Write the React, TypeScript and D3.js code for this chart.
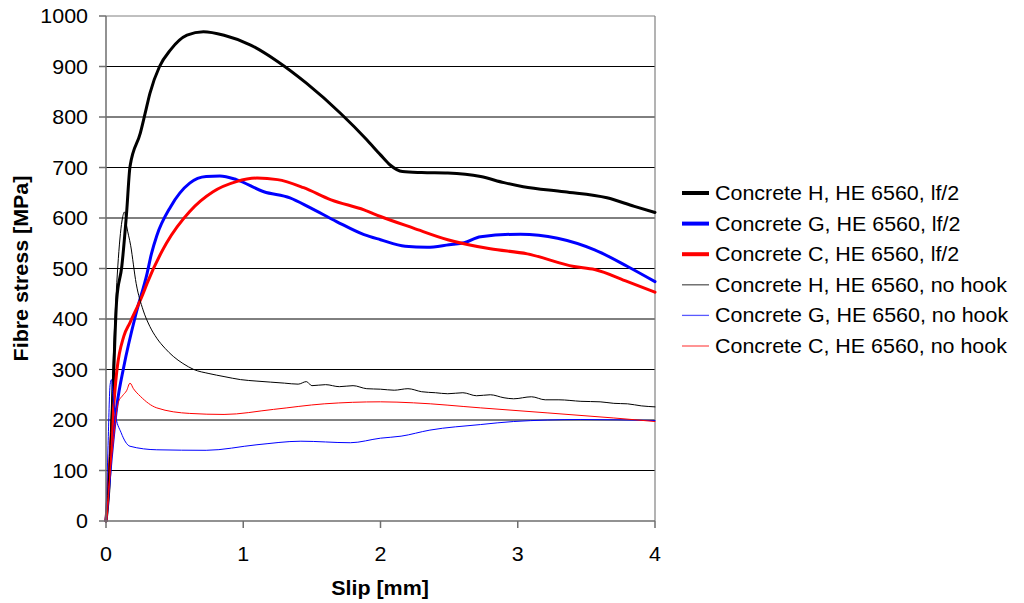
import * as d3 from "d3";
import React from "react";

// slip [mm] / fibre stress [MPa]
const hHookX = [0, 0.02, 0.05, 0.078, 0.115, 0.15, 0.175, 0.25, 0.285, 0.32, 0.39, 0.47, 0.59, 0.71, 0.86, 1.05, 1.25, 1.46, 1.71, 1.9, 2.0, 2.07, 2.16, 2.3, 2.49, 2.73, 2.9, 3.04, 3.34, 3.65, 3.85, 4.0];
const hHookY = [0, 60, 250, 438, 504, 610, 702, 768, 807, 847, 900, 933, 962, 969, 962, 943, 910, 867, 807, 755, 725, 705, 692, 690, 689, 682, 670, 662, 652, 640, 623, 611];

const gHookX = [0, 0.04, 0.08, 0.13, 0.22, 0.3, 0.33, 0.37, 0.47, 0.61, 0.73, 0.83, 0.95, 1.15, 1.34, 1.49, 1.68, 1.88, 2.0, 2.18, 2.34, 2.5, 2.61, 2.73, 3.02, 3.29, 3.56, 3.8, 4.0];
const gHookY = [0, 130, 230, 306, 412, 491, 528, 565, 622, 669, 682, 683, 676, 652, 640, 620, 593, 567, 557, 544, 542, 547, 551, 563, 568, 560, 537, 504, 474];

const cHookX = [0, 0.04, 0.08, 0.13, 0.175, 0.27, 0.3, 0.44, 0.61, 0.78, 0.95, 1.1, 1.25, 1.44, 1.64, 1.88, 2.0, 2.24, 2.49, 2.8, 3.07, 3.41, 3.56, 3.8, 4.0];
const cHookY = [0, 170, 300, 366, 393, 450, 471, 550, 613, 652, 672, 679, 676, 660, 636, 616, 603, 580, 557, 539, 529, 504, 498, 474, 453];

const hNoHookX = [0, 0.03, 0.06, 0.09, 0.12, 0.135, 0.15, 0.18, 0.22, 0.27, 0.32, 0.37, 0.43, 0.49, 0.56, 0.64, 0.75, 0.86, 0.98, 1.1, 1.2, 1.3, 1.4, 1.46, 1.5, 1.6, 1.7, 1.8, 1.9, 2.0, 2.1, 2.2, 2.3, 2.4, 2.49, 2.6, 2.7, 2.8, 2.9, 2.97, 3.1, 3.2, 3.3, 3.46, 3.6, 3.7, 3.8, 3.9, 4.0];
const hNoHookY = [0, 150, 370, 520, 600, 612, 585, 545, 470, 418, 385, 362, 342, 326, 312, 300, 292, 286, 280, 277, 275, 273, 271, 276, 268, 270, 266, 268, 262, 261, 259, 262, 256, 254, 252, 254, 248, 250, 244, 242, 246, 240, 240, 237, 236, 233, 232, 228, 226];

const gNoHookX = [0, 0.015, 0.03, 0.04, 0.05, 0.066, 0.11, 0.175, 0.37, 0.73, 1.1, 1.42, 1.78, 2.0, 2.15, 2.36, 2.73, 2.97, 3.46, 4.0];
const gNoHookY = [0, 150, 270, 280, 250, 214, 175, 148, 141, 140, 151, 158, 155, 164, 168, 180, 191, 197, 201, 199];

const cNoHookX = [0, 0.05, 0.09, 0.12, 0.15, 0.175, 0.2, 0.25, 0.37, 0.61, 0.86, 1.22, 1.59, 2.0, 2.24, 2.73, 3.22, 3.7, 4.0];
const cNoHookY = [0, 150, 235, 248, 258, 273, 262, 247, 224, 213, 211, 221, 232, 236, 234, 224, 214, 204, 197];

const seriesNames = [
  "Concrete H, HE 6560, lf/2",
  "Concrete G, HE 6560, lf/2",
  "Concrete C, HE 6560, lf/2",
  "Concrete H, HE 6560, no hook",
  "Concrete G, HE 6560, no hook",
  "Concrete C, HE 6560, no hook",
];
const seriesX = [hHookX, gHookX, cHookX, hNoHookX, gNoHookX, cNoHookX];
const seriesY = [hHookY, gHookY, cHookY, hNoHookY, gNoHookY, cNoHookY];
const seriesColor = ["#000000", "#0000ff", "#ff0000", "#000000", "#0000ff", "#ff0000"];
const seriesWidth = [3, 3, 3, 1, 1, 1];

const xTicks = [0, 1, 2, 3, 4];
const yTicks = [0, 100, 200, 300, 400, 500, 600, 700, 800, 900, 1000];

const W = 1024;
const H = 603;
const plot = { left: 106, right: 655, top: 16, bottom: 521 };
const FONT = "'Liberation Sans', Arial, sans-serif";
const FS = 19.5;
const SX = 1.1; // the reference text is slightly wide

function T({ x, y, anchor = "start", bold = false, rotate = 0, children }: any) {
  return (
    <text
      transform={`translate(${x},${y}) rotate(${rotate}) scale(${SX},1)`}
      textAnchor={anchor}
      fontFamily={FONT}
      fontSize={FS}
      fontWeight={bold ? "bold" : "normal"}
      fill="#000"
    >
      {children}
    </text>
  );
}

export default function App() {
  const x = d3.scaleLinear().domain([0, 4]).range([plot.left, plot.right]);
  const y = d3.scaleLinear().domain([0, 1000]).range([plot.bottom, plot.top]);

  const line = d3
    .line<[number, number]>()
    .x((d) => x(d[0]))
    .y((d) => y(d[1]))
    .curve(d3.curveMonotoneX);

  const legendY0 = 193;
  const legendStep = 30.6;

  return (
    <svg width={W} height={H} style={{ position: "fixed", left: 0, top: 0, background: "#fff" }}>
      <rect width={W} height={H} fill="#fff" />

      {/* grid */}
      {yTicks.slice(1).map((t) => (
        <line key={t} x1={plot.left} x2={plot.right} y1={y(t)} y2={y(t)} stroke={t === 1000 ? "#808080" : "#000"} strokeWidth={1} />
      ))}
      <line x1={plot.right} x2={plot.right} y1={plot.top} y2={plot.bottom} stroke="#808080" strokeWidth={1.2} />

      {/* series */}
      <g fill="none" strokeLinejoin="round" strokeLinecap="round">
        {seriesX.map((xs, i) => (
          <path
            key={seriesNames[i]}
            d={line(xs.map((v, j) => [v, seriesY[i][j]] as [number, number])) ?? ""}
            stroke={seriesColor[i]}
            strokeWidth={seriesWidth[i]}
          />
        ))}
      </g>

      {/* axes */}
      <line x1={plot.left} x2={plot.left} y1={plot.top} y2={plot.bottom} stroke="#6e6e6e" strokeWidth={1.5} />
      <line x1={plot.left} x2={plot.right} y1={plot.bottom} y2={plot.bottom} stroke="#6e6e6e" strokeWidth={1.5} />
      {yTicks.map((t) => (
        <g key={t}>
          <line x1={plot.left - 7} x2={plot.left} y1={y(t)} y2={y(t)} stroke="#6e6e6e" strokeWidth={1.5} />
          <T x={88} y={y(t) + 7} anchor="end">{t}</T>
        </g>
      ))}
      {xTicks.map((t) => (
        <g key={t}>
          <line x1={x(t)} x2={x(t)} y1={plot.bottom} y2={plot.bottom + 7} stroke="#6e6e6e" strokeWidth={1.5} />
          <T x={x(t)} y={561} anchor="middle">{t}</T>
        </g>
      ))}
      <T x={380} y={595} anchor="middle" bold>Slip [mm]</T>
      <T x={28} y={(plot.top + plot.bottom) / 2} anchor="middle" bold rotate={-90}>Fibre stress [MPa]</T>

      {/* legend */}
      {seriesNames.map((name, i) => {
        const ly = legendY0 + i * legendStep;
        return (
          <g key={name}>
            <line
              x1={682}
              x2={709}
              y1={ly}
              y2={ly}
              stroke={seriesColor[i]}
              strokeWidth={seriesWidth[i] === 3 ? 4 : 1.3}
              strokeOpacity={seriesWidth[i] === 3 ? 1 : 0.65}
            />
            <T x={715} y={ly + 7}>{name}</T>
          </g>
        );
      })}
    </svg>
  );
}
